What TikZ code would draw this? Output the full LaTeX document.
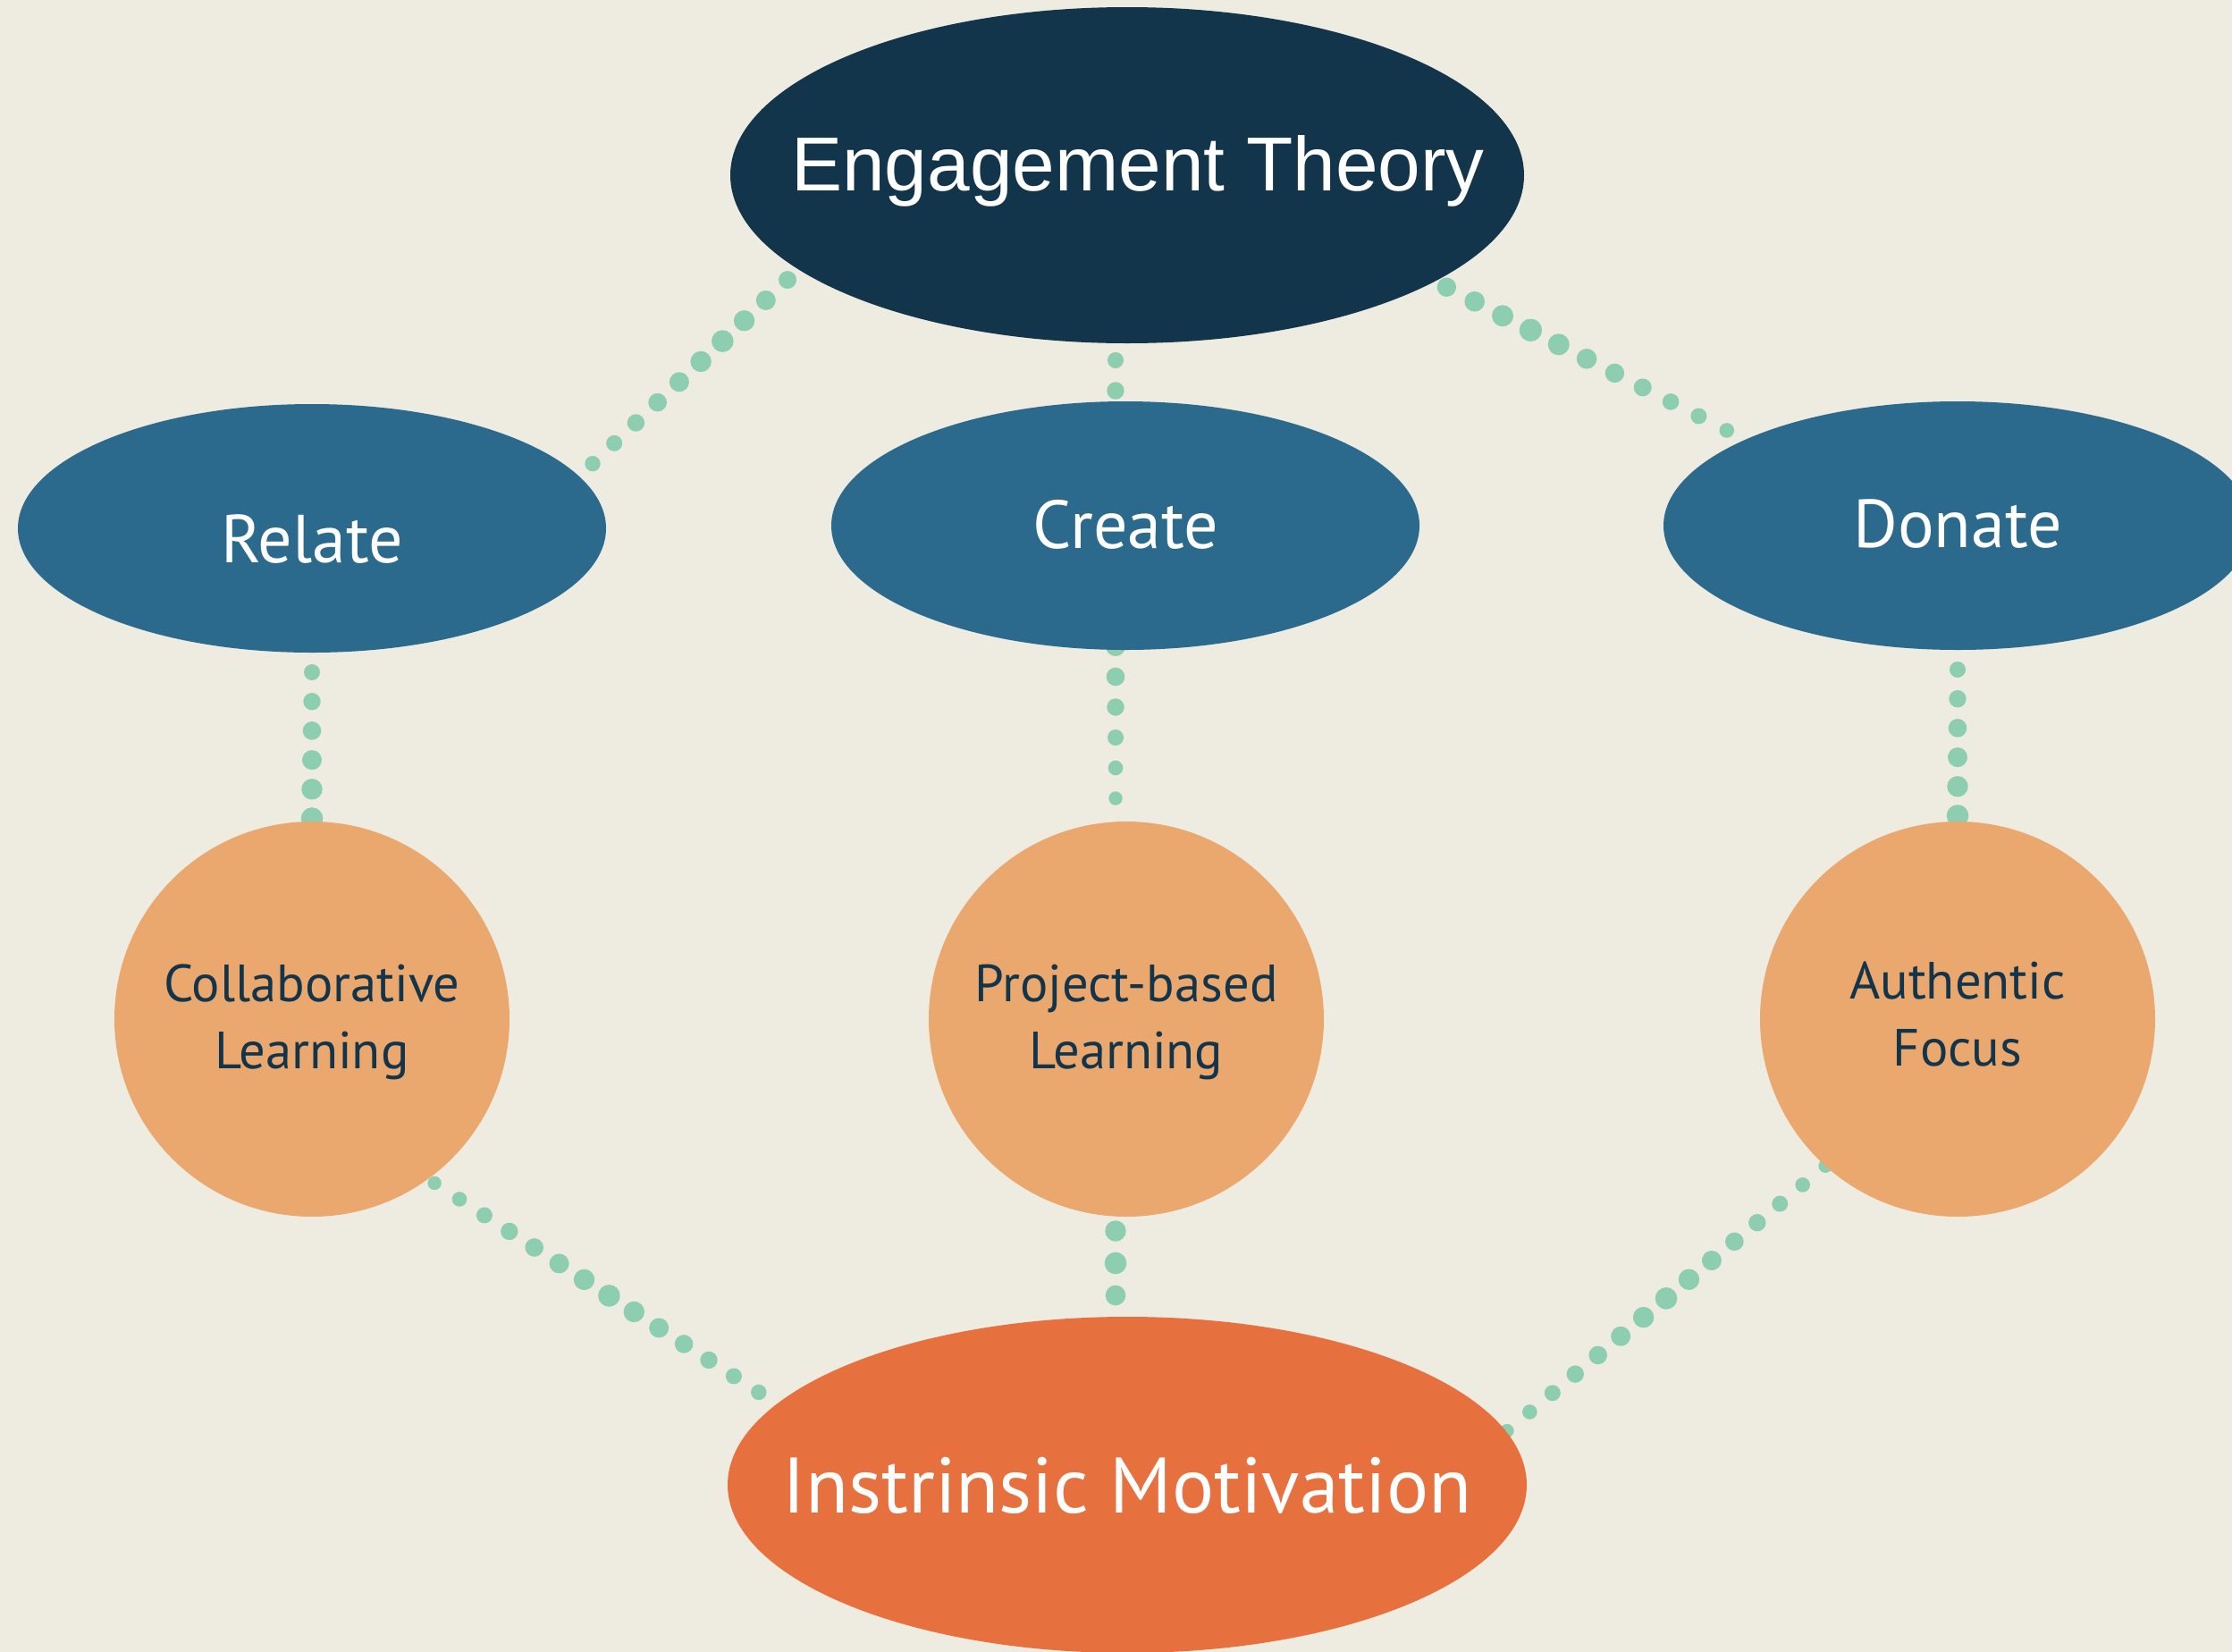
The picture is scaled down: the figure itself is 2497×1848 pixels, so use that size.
\documentclass[tikz,border=0pt]{standalone}
\usepackage{fontspec}
\setmainfont{PT Sans}
\newfontfamily\arialf{Liberation Sans}
\usetikzlibrary{shapes.geometric,calc}
\definecolor{bgc}{HTML}{EEECE1}
\definecolor{navyc}{HTML}{12354B}
\definecolor{bluec}{HTML}{2B6A8C}
\definecolor{lorange}{HTML}{EAA86E}
\definecolor{dorange}{HTML}{E7703F}
\definecolor{dotc}{HTML}{8DCDB0}
\pgfdeclarelayer{back}
\pgfdeclarelayer{dots}
\pgfsetlayers{back,dots,main}
% #1 start, #2 end, #3 offset (px), #4 spacing (px), #5 radii (px)
\newcommand\dotrow[5]{%
  \foreach \rr [count=\ii from 0] in {#5} {%
    \pgfmathsetmacro\dd{(#3+\ii*#4)*0.5}%
    \pgfmathsetmacro\rrr{\rr*0.5}%
    \fill[dotc] ($(#1)!\dd pt!(#2)$) circle[radius=\rrr pt];
  }%
}
\begin{document}
\begin{tikzpicture}[x=0.5pt,y=-0.5pt,
  topell/.style={ellipse, fill=navyc, inner sep=0pt, outer sep=0pt, minimum width=444pt, minimum height=188pt},
  midell/.style={ellipse, fill=bluec, inner sep=0pt, outer sep=0pt, minimum width=329pt, minimum height=139pt},
  botell/.style={ellipse, fill=dorange, inner sep=0pt, outer sep=0pt, minimum width=447pt, minimum height=188pt},
  circ/.style={circle, fill=lorange, inner sep=0pt, outer sep=0pt, minimum size=221pt},
  toptext/.style={inner sep=0pt, text=white, font=\arialf\fontsize{42.8}{50}\selectfont, text height=30.6pt, text depth=0pt},
  midtext/.style={inner sep=0pt, text=white, font=\fontsize{38}{44}\selectfont, text height=26.6pt, text depth=0pt},
  bottext/.style={inner sep=0pt, text=white, font=\fontsize{44}{50}\selectfont, text height=30.8pt, text depth=0pt},
  circtext/.style={inner sep=0pt, text=navyc, align=center, font=\fontsize{29.3}{37.5}\selectfont}
]
\begin{pgfonlayer}{back}
\fill[bgc] (0,0) rectangle (2497,1848);
\end{pgfonlayer}
\useasboundingbox (0,0) rectangle (2497,1848);

% shapes
\node[topell] (eng) at (1261,196) {};
\node[midell] (relate) at (349,591) {};
\node[midell] (create) at (1259,588) {};
\node[midell] (donate) at (2190,588) {};
\node[circ] (collab) at (349,1140) {};
\node[circ] (project) at (1260,1140) {};
\node[circ] (authentic) at (2190,1140) {};
\node[botell] (intr) at (1261,1661) {};

% texts
\node[toptext] (engT) at (1273,183) {Engagement Theory};
\node[midtext] (relateT) at (349,603) {Relate};
\node[midtext] (createT) at (1259,587) {Create};
\node[midtext] (donateT) at (2190,586) {Donate};
\node[circtext] (collabT) at (349,1143) {Collaborative\\Learning};
\node[circtext] (projectT) at (1260,1143) {Project-based\\Learning};
\node[circtext] (authenticT) at (2190,1135) {Authentic\\Focus};
\node[bottext] (intrT) at (1261,1662) {Instrinsic Motivation};

% connector end points
\coordinate (e2a) at ($(eng.south)+(-13,0)$);
\coordinate (e2b) at (e2a |- create.north);
\coordinate (e5a) at ($(create.south)+(-11,0)$);
\coordinate (e5b) at (e5a |- project.north);
\coordinate (e8a) at ($(project.south)+(-12,0)$);
\coordinate (e8b) at (e8a |- intr.north);

\begin{pgfonlayer}{dots}
\dotrow{eng.196.9}{relate.11.2}{17}{33.3}{10,11,11.7,12.3,11.7,11,10.3,9.7,9,8.7}
\dotrow{e2a}{e2b}{19}{34}{9,9.7}
\dotrow{eng.-19.45}{donate.158.8}{14.5}{35.2}{10.7,11.3,12,12.7,12,11.3,10.7,10,9.3,9,8.3,7.7}
\dotrow{relate.south}{collab.north}{22}{32.7}{9,9.7,10.3,11,11.7,12.3}
\dotrow{e5a}{e5b}{-4}{34}{11,10.3,9.7,9,8.3,7.7}
\dotrow{donate.south}{authentic.north}{22}{32.7}{9,9.7,10.3,11,11.7,12.3}
\dotrow{collab.-54.7}{intr.167.35}{8.6}{33.2}{7.7,8.3,9,9.7,10.3,11,11.7,12.3,11.7,11,10.3,9.7,9,8.7,8}
\dotrow{e8a}{e8b}{16}{36}{11.7,12.3,11.3,10.7}
\dotrow{authentic.-132.4}{intr.8.5}{0}{33.1}{7.7,8.3,9,9.7,10.3,11,11.7,12.3,11.7,11,10.3,9.7,9,8.3,7.7}
\end{pgfonlayer}
\end{tikzpicture}
\end{document}
